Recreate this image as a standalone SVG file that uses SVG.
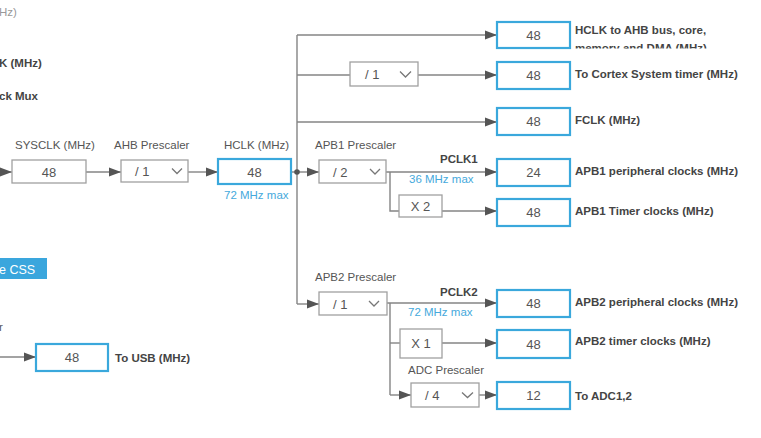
<svg xmlns="http://www.w3.org/2000/svg" width="761" height="438" viewBox="0 0 761 438">
<style>
  text { font-family: "Liberation Sans", Arial, sans-serif; }
  .lbl { font-size: 11.5px; fill: #555; }
  .blbl { font-size: 11.5px; fill: #444; font-weight: bold; }
  .max { font-size: 11.5px; fill: #45a9dc; }
  .num { font-size: 13px; fill: #555; text-anchor: middle; }
  .div { font-size: 13px; fill: #555; }
  .gbox { fill: #fff; stroke: #a0a0a0; stroke-width: 1.3; }
  .bbox { fill: #fff; stroke: #3aa8dc; stroke-width: 2.2; }
  .chev { fill: none; stroke: #777; stroke-width: 1.3; }
  .ln { fill: none; stroke: #848484; stroke-width: 1.4; }
  .arr { fill: none; stroke: #848484; stroke-width: 1.4; marker-end: url(#ah); }
</style>
<defs>
  <marker id="ah" markerUnits="userSpaceOnUse" markerWidth="13" markerHeight="10" refX="12" refY="5" orient="auto">
    <path d="M0,0.5 L12,5 L0,9.5 Z" fill="#555"/>
  </marker>
  <clipPath id="clipTop"><rect x="570" y="0" width="191" height="48.5"/></clipPath>
</defs>
<rect width="761" height="438" fill="#fff"/>

<g id="connectors">
  <path class="arr" d="M0,172 H12"/>
  <path class="arr" d="M86,172 H121"/>
  <path class="arr" d="M188,172 H218"/>
  <path class="ln" d="M291,172 H297"/>
  <path class="ln" d="M297,35 V304"/>
  <path class="arr" d="M297,35 H497"/>
  <path class="ln" d="M297,75 H350"/>
  <path class="arr" d="M418,75 H497"/>
  <path class="arr" d="M297,122 H497"/>
  <path class="arr" d="M297,172 H319"/>
  <path class="arr" d="M386,172 H497"/>
  <path class="ln" d="M390,172 V211 H399"/>
  <path class="arr" d="M442,211 H497"/>
  <path class="arr" d="M297,304 H319"/>
  <path class="arr" d="M387,303 H497"/>
  <path class="ln" d="M390,303 V395"/>
  <path class="ln" d="M390,343 H400"/>
  <path class="arr" d="M442,343 H497"/>
  <path class="arr" d="M390,395 H411"/>
  <path class="arr" d="M479,395 H497"/>
  <path class="arr" d="M0,357 H36"/>
  <circle cx="297" cy="172" r="2.8" fill="#555"/>
</g>

<g id="partial-left">
  <text x="-1" y="16" style="font-size:11.5px;fill:#999">Hz)</text>
  <text x="-1" y="67" class="blbl">K (MHz)</text>
  <text x="-1" y="100" class="blbl">ck Mux</text>
  <text x="-1" y="331" class="lbl">r</text>
</g>

<g id="css-button">
  <rect x="0" y="258" width="47" height="21" fill="#3aa6dd"/>
  <text x="-1" y="274" style="font-size:12.5px;fill:#fff">e CSS</text>
</g>

<g id="sysclk">
  <text x="15" y="149" class="lbl">SYSCLK (MHz)</text>
  <rect x="12" y="160" width="74" height="23" class="gbox"/>
  <text x="49" y="176.5" class="num">48</text>
</g>

<g id="ahb-prescaler">
  <text x="114" y="149" class="lbl">AHB Prescaler</text>
  <rect x="121" y="160" width="67" height="22" class="gbox"/>
  <text x="135" y="176" class="div">/ 1</text>
  <polyline points="172,168.5 177,173.5 182,168.5" class="chev"/>
</g>

<g id="hclk">
  <text x="224" y="149" class="lbl">HCLK (MHz)</text>
  <rect x="218" y="159" width="73" height="25" class="bbox"/>
  <text x="254.5" y="176.5" class="num">48</text>
  <text x="224" y="199" class="max">72 MHz max</text>
</g>

<g id="cortex-divider">
  <rect x="350" y="62" width="68" height="24" class="gbox"/>
  <text x="365" y="79" class="div">/ 1</text>
  <polyline points="400,71.5 405.5,77 411,71.5" class="chev"/>
</g>

<g id="hclk-ahb">
  <rect x="497" y="22" width="73" height="26" class="bbox"/>
  <text x="533.5" y="39.5" class="num">48</text>
  <g clip-path="url(#clipTop)">
    <text x="575" y="34" class="blbl">HCLK to AHB bus, core,</text>
    <text x="575" y="52" class="blbl">memory and DMA (MHz)</text>
  </g>
</g>

<g id="cortex-timer">
  <rect x="497" y="62" width="73" height="27" class="bbox"/>
  <text x="533.5" y="80" class="num">48</text>
  <text x="575" y="77.5" class="blbl">To Cortex System timer (MHz)</text>
</g>

<g id="fclk">
  <rect x="497" y="108" width="73" height="27" class="bbox"/>
  <text x="533.5" y="126" class="num">48</text>
  <text x="575" y="124" class="blbl">FCLK (MHz)</text>
</g>

<g id="apb1-prescaler">
  <text x="315" y="149" class="lbl">APB1 Prescaler</text>
  <rect x="319" y="160" width="67" height="23" class="gbox"/>
  <text x="333" y="176.5" class="div">/ 2</text>
  <polyline points="370,169 375,174 380,169" class="chev"/>
  <text x="440" y="163" class="blbl">PCLK1</text>
  <text x="409" y="183" class="max">36 MHz max</text>
</g>

<g id="apb1-x2">
  <rect x="399" y="195" width="43" height="22" class="gbox"/>
  <text x="420.5" y="210.5" class="num">X 2</text>
</g>

<g id="apb1-periph">
  <rect x="497" y="159" width="73" height="27" class="bbox"/>
  <text x="533.5" y="177" class="num">24</text>
  <text x="575" y="175" class="blbl">APB1 peripheral clocks (MHz)</text>
</g>

<g id="apb1-timer">
  <rect x="497" y="199" width="73" height="27" class="bbox"/>
  <text x="533.5" y="217" class="num">48</text>
  <text x="575" y="215" class="blbl">APB1 Timer clocks (MHz)</text>
</g>

<g id="apb2-prescaler">
  <text x="315" y="281" class="lbl">APB2 Prescaler</text>
  <rect x="319" y="292" width="68" height="23" class="gbox"/>
  <text x="333" y="308.5" class="div">/ 1</text>
  <polyline points="369,301 374,306 379,301" class="chev"/>
  <text x="440" y="296" class="blbl">PCLK2</text>
  <text x="408" y="316" class="max">72 MHz max</text>
</g>

<g id="apb2-x1">
  <rect x="400" y="329" width="42" height="29" class="gbox"/>
  <text x="421" y="348" class="num">X 1</text>
</g>

<g id="adc-prescaler">
  <text x="408" y="374" class="lbl">ADC Prescaler</text>
  <rect x="411" y="383" width="68" height="24" class="gbox"/>
  <text x="425" y="400" class="div">/ 4</text>
  <polyline points="462,392.5 467.5,397.5 473,392.5" class="chev"/>
</g>

<g id="apb2-periph">
  <rect x="497" y="290" width="73" height="27" class="bbox"/>
  <text x="533.5" y="308" class="num">48</text>
  <text x="575" y="306" class="blbl">APB2 peripheral clocks (MHz)</text>
</g>

<g id="apb2-timer">
  <rect x="497" y="330" width="73" height="28" class="bbox"/>
  <text x="533.5" y="348.5" class="num">48</text>
  <text x="575" y="345" class="blbl">APB2 timer clocks (MHz)</text>
</g>

<g id="adc-out">
  <rect x="497" y="382" width="73" height="27" class="bbox"/>
  <text x="533.5" y="400" class="num">12</text>
  <text x="575" y="400" class="blbl">To ADC1,2</text>
</g>

<g id="usb">
  <rect x="36" y="344" width="72" height="27" class="bbox"/>
  <text x="72" y="362" class="num">48</text>
  <text x="115" y="362" class="blbl">To USB (MHz)</text>
</g>
</svg>
